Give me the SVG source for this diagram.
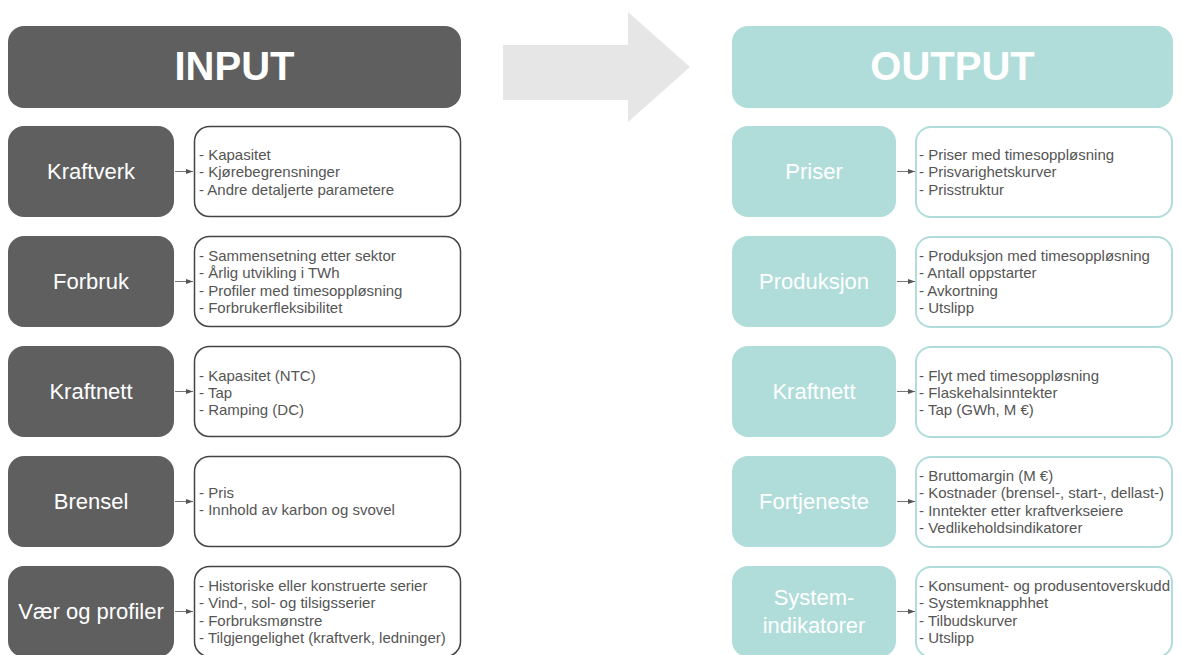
<svg xmlns="http://www.w3.org/2000/svg" width="1181" height="655" viewBox="0 0 1181 655">
  <defs>
    <marker id="tip" markerWidth="8" markerHeight="6" refX="7" refY="3" orient="auto" markerUnits="userSpaceOnUse">
      <path d="M0,0.5 L7,3 L0,5.5 Z" fill="#555"/>
    </marker>
    <style>
      .in { fill: #5f5f5f; }
      .out { fill: #b0ddd9; }
      .det-in { fill: #fff; stroke: #444; stroke-width: 1.5; }
      .det-out { fill: #fff; stroke: #b0ddd9; stroke-width: 2; }
      .head { font-family: "Liberation Sans", Arial, sans-serif; font-weight: bold; font-size: 40px; fill: #fff; text-anchor: middle; }
      .lbl { font-family: "Liberation Sans", Arial, sans-serif; font-size: 22px; fill: #fff; text-anchor: middle; }
      .txt { font-family: "Liberation Sans", Arial, sans-serif; font-size: 15px; fill: #555; }
      .link { stroke: #777; stroke-width: 1; fill: none; marker-end: url(#tip); }
    </style>
  </defs>
  <rect width="1181" height="655" fill="#fff"/>

  <!-- flow arrow between the two columns -->
  <polygon points="503,45 628,45 628,12 690,67 628,122 628,100 503,100" fill="#e6e6e6"/>

  <!-- column headers -->
  <g id="input-header">
    <rect class="in" x="8" y="26" width="453" height="82" rx="16"/>
    <text class="head" x="234.5" y="80">INPUT</text>
  </g>
  <g id="output-header">
    <rect class="out" x="732" y="26" width="441" height="82" rx="16"/>
    <text class="head" x="952.5" y="80">OUTPUT</text>
  </g>

  <!-- input rows -->
  <g id="kraftverk">
    <rect class="in" x="8" y="126" width="166" height="91" rx="16"/>
    <text class="lbl" x="91" y="179">Kraftverk</text>
  </g>
  <g id="kraftverk-details">
    <rect class="det-in" x="194.5" y="126.5" width="266" height="90" rx="15"/>
    <text class="txt" x="199" y="160">- Kapasitet</text>
    <text class="txt" x="199" y="177">- Kjørebegrensninger</text>
    <text class="txt" x="199" y="194.5">- Andre detaljerte parametere</text>
  </g>

  <g id="forbruk">
    <rect class="in" x="8" y="236" width="166" height="91" rx="16"/>
    <text class="lbl" x="91" y="289">Forbruk</text>
  </g>
  <g id="forbruk-details">
    <rect class="det-in" x="194.5" y="236.5" width="266" height="90" rx="15"/>
    <text class="txt" x="199" y="261">- Sammensetning etter sektor</text>
    <text class="txt" x="199" y="278">- Årlig utvikling i TWh</text>
    <text class="txt" x="199" y="295.5">- Profiler med timesoppløsning</text>
    <text class="txt" x="199" y="313">- Forbrukerfleksibilitet</text>
  </g>

  <g id="kraftnett-in">
    <rect class="in" x="8" y="346" width="166" height="91" rx="16"/>
    <text class="lbl" x="91" y="399">Kraftnett</text>
  </g>
  <g id="kraftnett-in-details">
    <rect class="det-in" x="194.5" y="346.5" width="266" height="90" rx="15"/>
    <text class="txt" x="199" y="380.5">- Kapasitet (NTC)</text>
    <text class="txt" x="199" y="397.5">- Tap</text>
    <text class="txt" x="199" y="415">- Ramping (DC)</text>
  </g>

  <g id="brensel">
    <rect class="in" x="8" y="456" width="166" height="91" rx="16"/>
    <text class="lbl" x="91" y="509">Brensel</text>
  </g>
  <g id="brensel-details">
    <rect class="det-in" x="194.5" y="456.5" width="266" height="90" rx="15"/>
    <text class="txt" x="199" y="498">- Pris</text>
    <text class="txt" x="199" y="515">- Innhold av karbon og svovel</text>
  </g>

  <g id="vaer">
    <rect class="in" x="8" y="566" width="166" height="91" rx="16"/>
    <text class="lbl" x="91" y="619">Vær og profiler</text>
  </g>
  <g id="vaer-details">
    <rect class="det-in" x="194.5" y="566.5" width="266" height="90" rx="15"/>
    <text class="txt" x="199" y="591">- Historiske eller konstruerte serier</text>
    <text class="txt" x="199" y="608">- Vind-, sol- og tilsigsserier</text>
    <text class="txt" x="199" y="625.5">- Forbruksmønstre</text>
    <text class="txt" x="199" y="643">- Tilgjengelighet (kraftverk, ledninger)</text>
  </g>

  <!-- output rows -->
  <g id="priser">
    <rect class="out" x="732" y="126" width="164" height="91" rx="16"/>
    <text class="lbl" x="814" y="179">Priser</text>
  </g>
  <g id="priser-details">
    <rect class="det-out" x="916" y="127" width="256" height="90" rx="15"/>
    <text class="txt" x="919" y="160">- Priser med timesoppløsning</text>
    <text class="txt" x="919" y="177">- Prisvarighetskurver</text>
    <text class="txt" x="919" y="194.5">- Prisstruktur</text>
  </g>

  <g id="produksjon">
    <rect class="out" x="732" y="236" width="164" height="91" rx="16"/>
    <text class="lbl" x="814" y="289">Produksjon</text>
  </g>
  <g id="produksjon-details">
    <rect class="det-out" x="916" y="237" width="256" height="90" rx="15"/>
    <text class="txt" x="919" y="261">- Produksjon med timesoppløsning</text>
    <text class="txt" x="919" y="278">- Antall oppstarter</text>
    <text class="txt" x="919" y="295.5">- Avkortning</text>
    <text class="txt" x="919" y="313">- Utslipp</text>
  </g>

  <g id="kraftnett-out">
    <rect class="out" x="732" y="346" width="164" height="91" rx="16"/>
    <text class="lbl" x="814" y="399">Kraftnett</text>
  </g>
  <g id="kraftnett-out-details">
    <rect class="det-out" x="916" y="347" width="256" height="90" rx="15"/>
    <text class="txt" x="919" y="380.5">- Flyt med timesoppløsning</text>
    <text class="txt" x="919" y="397.5">- Flaskehalsinntekter</text>
    <text class="txt" x="919" y="415">- Tap (GWh, M €)</text>
  </g>

  <g id="fortjeneste">
    <rect class="out" x="732" y="456" width="164" height="91" rx="16"/>
    <text class="lbl" x="814" y="509">Fortjeneste</text>
  </g>
  <g id="fortjeneste-details">
    <rect class="det-out" x="916" y="457" width="256" height="90" rx="15"/>
    <text class="txt" x="919" y="481">- Bruttomargin (M €)</text>
    <text class="txt" x="919" y="498">- Kostnader (brensel-, start-, dellast-)</text>
    <text class="txt" x="919" y="515.5">- Inntekter etter kraftverkseiere</text>
    <text class="txt" x="919" y="533">- Vedlikeholdsindikatorer</text>
  </g>

  <g id="systemindikatorer">
    <rect class="out" x="732" y="566" width="164" height="91" rx="16"/>
    <text class="lbl" x="814" y="605">System-</text>
    <text class="lbl" x="814" y="633">indikatorer</text>
  </g>
  <g id="systemindikatorer-details">
    <rect class="det-out" x="916" y="567" width="256" height="90" rx="15"/>
    <text class="txt" x="919" y="591">- Konsument- og produsentoverskudd</text>
    <text class="txt" x="919" y="608">- Systemknapphhet</text>
    <text class="txt" x="919" y="625.5">- Tilbudskurver</text>
    <text class="txt" x="919" y="643">- Utslipp</text>
  </g>

  <!-- connectors from each category to its details -->
  <g id="connectors">
    <line class="link" x1="175" y1="171.5" x2="193" y2="171.5"/>
    <line class="link" x1="175" y1="281.5" x2="193" y2="281.5"/>
    <line class="link" x1="175" y1="391.5" x2="193" y2="391.5"/>
    <line class="link" x1="175" y1="501.5" x2="193" y2="501.5"/>
    <line class="link" x1="175" y1="611.5" x2="193" y2="611.5"/>
    <line class="link" x1="897" y1="171.5" x2="915" y2="171.5"/>
    <line class="link" x1="897" y1="281.5" x2="915" y2="281.5"/>
    <line class="link" x1="897" y1="391.5" x2="915" y2="391.5"/>
    <line class="link" x1="897" y1="501.5" x2="915" y2="501.5"/>
    <line class="link" x1="897" y1="611.5" x2="915" y2="611.5"/>
  </g>
</svg>
